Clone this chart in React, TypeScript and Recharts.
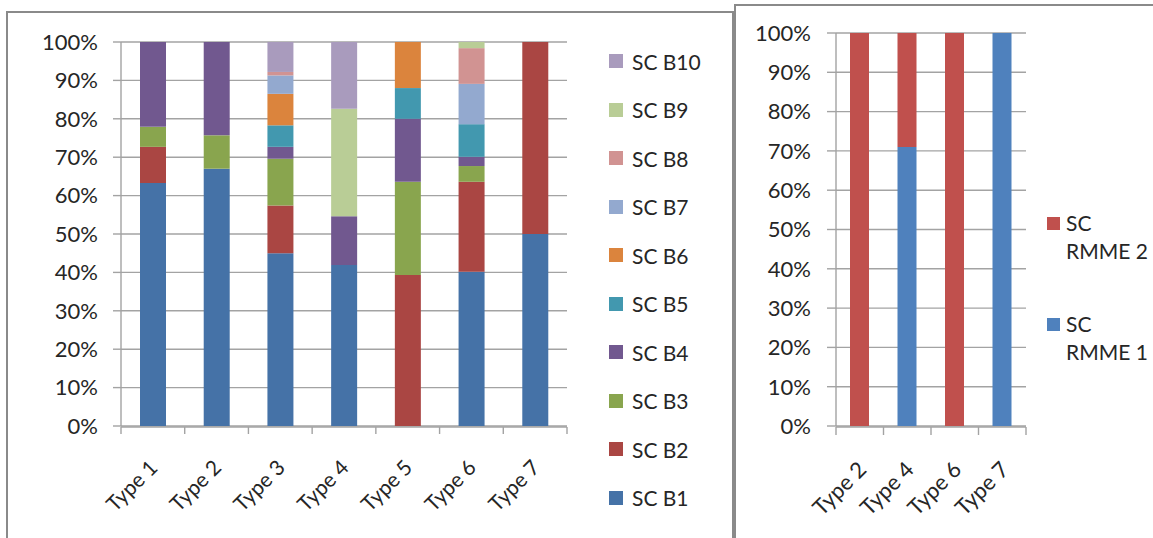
import React from 'react';
import { BarChart, Bar, XAxis, YAxis, CartesianGrid, Legend } from 'recharts';

const FONT = 'Lato, "Open Sans", sans-serif';
const TEXT = '#262626';
const GRID = '#a3a3a3';

// left chart: SC B1..B10 per type (percent)
const TYPES = ['Type 1', 'Type 2', 'Type 3', 'Type 4', 'Type 5', 'Type 6', 'Type 7'];
const SC_B1 = [63.3, 67.0, 45.0, 41.9, 0, 40.2, 50.0];
const SC_B2 = [9.4, 0, 12.4, 0, 39.3, 23.4, 50.0];
const SC_B3 = [5.2, 8.7, 12.2, 0, 24.3, 4.1, 0];
const SC_B4 = [22.1, 24.3, 3.1, 12.7, 16.4, 2.4, 0];
const SC_B5 = [0, 0, 5.6, 0, 8.0, 8.5, 0];
const SC_B6 = [0, 0, 8.2, 0, 12.0, 0, 0];
const SC_B7 = [0, 0, 4.8, 0, 0, 10.5, 0];
const SC_B8 = [0, 0, 0.9, 0, 0, 9.3, 0];
const SC_B9 = [0, 0, 0, 28.0, 0, 1.6, 0];
const SC_B10 = [0, 0, 7.8, 17.4, 0, 0, 0];

const B_SERIES = [
  { key: 'b1', name: 'SC B1', values: SC_B1, color: '#4572a7' },
  { key: 'b2', name: 'SC B2', values: SC_B2, color: '#aa4643' },
  { key: 'b3', name: 'SC B3', values: SC_B3, color: '#89a54e' },
  { key: 'b4', name: 'SC B4', values: SC_B4, color: '#71588f' },
  { key: 'b5', name: 'SC B5', values: SC_B5, color: '#4298af' },
  { key: 'b6', name: 'SC B6', values: SC_B6, color: '#db843d' },
  { key: 'b7', name: 'SC B7', values: SC_B7, color: '#93a9cf' },
  { key: 'b8', name: 'SC B8', values: SC_B8, color: '#d19392' },
  { key: 'b9', name: 'SC B9', values: SC_B9, color: '#b9cd96' },
  { key: 'b10', name: 'SC B10', values: SC_B10, color: '#a99bbd' },
];

// right chart: SC RMME 1 / 2
const RM_TYPES = ['Type 2', 'Type 4', 'Type 6', 'Type 7'];
const SC_RMME1 = [0, 71, 0, 100];
const SC_RMME2 = [100, 29, 100, 0];

const RM_SERIES = [
  { key: 'r1', name: 'SC RMME 1', values: SC_RMME1, color: '#4f81bd' },
  { key: 'r2', name: 'SC RMME 2', values: SC_RMME2, color: '#c0504d' },
];

const PCT_TICKS = [0, 10, 20, 30, 40, 50, 60, 70, 80, 90, 100];

const leftData = TYPES.map((t, i) => {
  const row: Record<string, any> = { type: t, idx: i };
  B_SERIES.forEach((s) => (row[s.key] = s.values[i]));
  return row;
});

const rightData = RM_TYPES.map((t, i) => {
  const row: Record<string, any> = { type: t, idx: i };
  RM_SERIES.forEach((s) => (row[s.key] = s.values[i]));
  return row;
});

const makeTypeTick = (dx: number, dy: number, size: number) => (props: any) => {
  const { x, y, payload } = props;
  const px = x + dx;
  const py = y + dy;
  return (
    <text
      x={px}
      y={py}
      transform={`rotate(-45, ${px}, ${py})`}
      textAnchor="end"
      fontFamily={FONT}
      fontSize={size}
      fill={TEXT}
    >
      {payload.value}
    </text>
  );
};

const noLabel = () => <g />;

// legends follow series order, top item = last series (like Excel)
const LeftLegend = () => (
  <div style={{ fontFamily: FONT, fontSize: 21, color: TEXT }}>
    {[...B_SERIES].reverse().map((s) => (
      <div key={s.key} style={{ height: 48.5, display: 'flex', alignItems: 'center', whiteSpace: 'nowrap' }}>
        <span style={{ width: 14, height: 14, background: s.color, marginRight: 9, display: 'inline-block' }} />
        {s.name}
      </div>
    ))}
  </div>
);

const RightLegend = () => (
  <div style={{ fontFamily: FONT, fontSize: 21, color: TEXT, lineHeight: '28px' }}>
    {[...RM_SERIES].reverse().map((s) => {
      const [first, ...rest] = s.name.split(' ');
      return (
        <div key={s.key} style={{ height: 100.5, display: 'flex', alignItems: 'flex-start' }}>
          <span style={{ width: 13, height: 13, background: s.color, marginTop: 8, marginRight: 6, flex: 'none' }} />
          <div>
            <div>{first}</div>
            <div style={{ whiteSpace: 'nowrap' }}>{rest.join(' ')}</div>
          </div>
        </div>
      );
    })}
  </div>
);

const yTick = { fontFamily: FONT, fontSize: 22, fill: TEXT };

export default function App() {
  return (
    <div style={{ position: 'absolute', left: 0, top: 0, width: 1153, height: 538, overflow: 'hidden', background: '#fff' }}>
      <div style={{ position: 'absolute', left: 6, top: 11, width: 724, height: 560, border: '2px solid #8a8a8a' }} />
      <div style={{ position: 'absolute', left: 734, top: 4, width: 440, height: 560, border: '2px solid #8a8a8a' }} />

      <div style={{ position: 'absolute', left: 0, top: 0 }}>
        <BarChart width={735} height={538} data={leftData} margin={{ top: 42, right: 168, bottom: 110, left: 61 }} barSize={26}>
          <CartesianGrid vertical={false} stroke={GRID} strokeWidth={1.4} />
          <XAxis xAxisId="edge" type="number" dataKey="idx" domain={[0, 7]} ticks={[0, 1, 2, 3, 4, 5, 6, 7]} height={1}
            tick={noLabel} tickSize={7} stroke={GRID} strokeWidth={1.4} allowDataOverflow />
          <XAxis dataKey="type" height={1} axisLine={false} tickLine={false} interval={0} tick={makeTypeTick(6, 35, 21)} />
          <YAxis domain={[0, 100]} ticks={PCT_TICKS} tickFormatter={(v) => `${v}%`} width={60} tickSize={8} tickMargin={15}
            stroke={GRID} strokeWidth={1.4} tick={yTick} interval={0} />
          {B_SERIES.map((s) => (
            <Bar key={s.key} dataKey={s.key} name={s.name} stackId="b" fill={s.color} isAnimationActive={false} />
          ))}
          <Legend layout="vertical" align="center" verticalAlign="middle" content={LeftLegend}
            wrapperStyle={{ left: 609, top: 37, width: 120 }} />
        </BarChart>
      </div>

      <div style={{ position: 'absolute', left: 736, top: 0 }}>
        <BarChart width={417} height={538} data={rightData} margin={{ top: 33, right: 127, bottom: 110, left: 20 }} barSize={19}>
          <CartesianGrid vertical={false} stroke={GRID} strokeWidth={1.4} />
          <XAxis xAxisId="edge" type="number" dataKey="idx" domain={[0, 4]} ticks={[0, 1, 2, 3, 4]} height={1}
            tick={noLabel} tickSize={8} stroke={GRID} strokeWidth={1.4} allowDataOverflow />
          <XAxis dataKey="type" height={1} axisLine={false} tickLine={false} interval={0} tick={makeTypeTick(8, 37, 22)} />
          <YAxis domain={[0, 100]} ticks={PCT_TICKS} tickFormatter={(v) => `${v}%`} width={80} tickSize={9} tickMargin={16}
            stroke={GRID} strokeWidth={1.4} tick={yTick} interval={0} />
          {RM_SERIES.map((s) => (
            <Bar key={s.key} dataKey={s.key} name={s.name} stackId="r" fill={s.color} isAnimationActive={false} />
          ))}
          <Legend layout="vertical" align="center" verticalAlign="middle" content={RightLegend}
            wrapperStyle={{ left: 311, top: 209, width: 100 }} />
        </BarChart>
      </div>
    </div>
  );
}
